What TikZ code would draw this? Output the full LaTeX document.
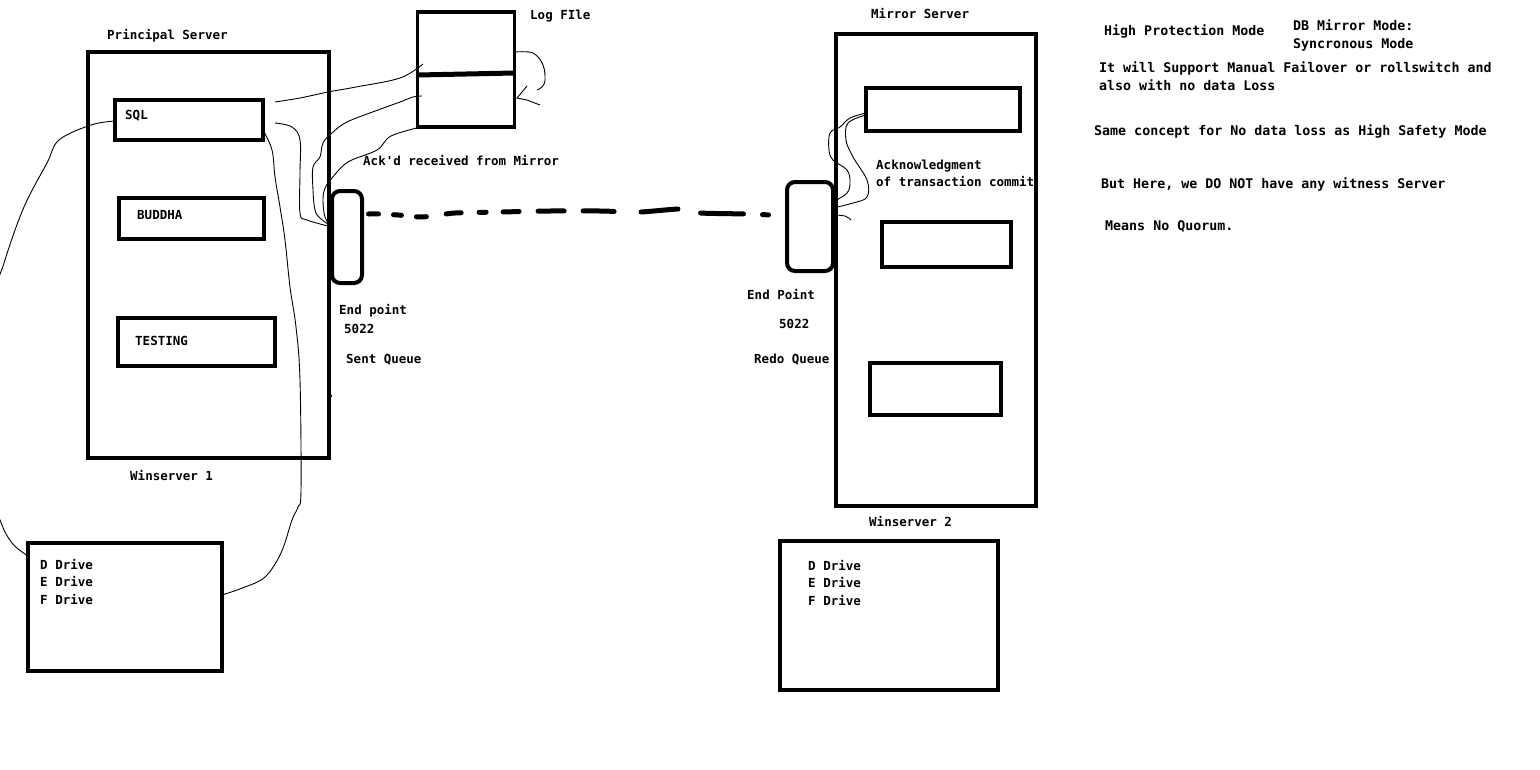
\documentclass[tikz,border=0pt]{standalone}
\usepackage{fontspec}
\setmonofont{DejaVu Sans Mono}
\usetikzlibrary{calc}
\begin{document}
\begin{tikzpicture}[x=1pt,y=-1pt,
  box/.style={draw,line width=3.5pt,inner sep=0pt,outer sep=0pt},
  epbox/.style={box,line width=4pt,rounded corners=8pt},
  lbl/.style={font=\ttfamily\bfseries\fontsize{12.5}{15}\selectfont,anchor=west,inner sep=0pt,text height=9pt,text depth=0pt},
  note/.style={font=\ttfamily\bfseries\fontsize{13.3}{16}\selectfont,anchor=west,inner sep=0pt,text height=9.5pt,text depth=0pt},
  wire/.style={line width=0.9pt},
  link/.style={line width=5pt,line cap=round,
    dash pattern=on 10pt off 15pt on 8pt off 15pt on 10pt off 20pt on 15pt off 18pt on 7pt off 17pt on 16pt off 19pt on 26pt off 19pt on 31pt off 27pt on 37pt off 23pt on 43pt off 19pt on 6pt off 100pt}
]
\useasboundingbox (0,0) rectangle (1540,769);

% principal server
\node[box,minimum width=241,minimum height=406] (ps) at (208.5,255) {};
\node[box,minimum width=148,minimum height=40] (sql) at (189,120) {};
\node[box,minimum width=145,minimum height=41] (buddha) at (191.5,218.5) {};
\node[box,minimum width=157,minimum height=48] (testing) at (196.5,342) {};
\node[epbox,minimum width=30,minimum height=92] (ep1) at (347,237) {};
\node[box,minimum width=97,minimum height=115] (logf) at (466,69.5) {};
\draw[line width=5pt] (logf.west |- 0,75) coordinate (ld1) -- (logf.east |- 0,73) coordinate (ld2);
\node[box,minimum width=194,minimum height=128] (dd1) at (125,607) {};

% mirror server
\node[box,minimum width=200,minimum height=472] (ms) at (936,270) {};
\node[box,minimum width=154,minimum height=43] (m1) at (943,109.5) {};
\node[box,minimum width=129,minimum height=45] (m2) at (946.5,244.5) {};
\node[box,minimum width=131,minimum height=52] (m3) at (935.5,389) {};
\node[epbox,minimum width=46,minimum height=89] (ep2) at (810,226.5) {};
\node[box,minimum width=218,minimum height=149] (dd2) at (889,615.5) {};

% labels
\node[lbl] (tps) at (107,35) {Principal Server};
\node[lbl] (tsql) at (125,115) {SQL};
\node[lbl] (tbud) at (137,215) {BUDDHA};
\node[lbl] (ttest) at (135,341) {TESTING};
\node[lbl] (tw1) at (130,476) {Winserver 1};
\node[lbl] (tlog) at (530,15) {Log FIle};
\node[lbl] (tack) at (363,161) {Ack'd received from Mirror};
\node[lbl] (tep1) at (339,310) {End point};
\node[lbl] (tp1) at (344,329) {5022};
\node[lbl] (tsq) at (346,359) {Sent Queue};
\node[lbl] (tms) at (871,14) {Mirror Server};
\node[lbl] (tak1) at (876,165) {Acknowledgment};
\node[lbl] (tak2) at (876,182) {of transaction commit};
\node[lbl] (tep2) at (747,295) {End Point};
\node[lbl] (tp2) at (779,324) {5022};
\node[lbl] (trq) at (754,359) {Redo Queue};
\node[lbl] (tw2) at (869,522) {Winserver 2};
\node[lbl] (d1a) at (40,565) {D Drive};
\node[lbl] (d1b) at (40,582) {E Drive};
\node[lbl] (d1c) at (40,600) {F Drive};
\node[lbl] (d2a) at (808,566) {D Drive};
\node[lbl] (d2b) at (808,583) {E Drive};
\node[lbl] (d2c) at (808,601) {F Drive};

% notes
\node[note] (n1) at (1104,31) {High Protection Mode};
\node[note] (n2) at (1293,26) {DB Mirror Mode:};
\node[note] (n3) at (1293,44) {Syncronous Mode};
\node[note] (n4) at (1099,68) {It will Support Manual Failover or rollswitch and};
\node[note] (n5) at (1099,86) {also with no data Loss};
\node[note] (n6) at (1094,131) {Same concept for No data loss as High Safety Mode};
\node[note] (n7) at (1101,184) {But Here, we DO NOT have any witness Server};
\node[note] (n8) at (1105,226) {Means No Quorum.};

% endpoint link
\coordinate (la) at (ep1.east |- 0,214);
\coordinate (lb) at (ep2.west |- 0,215);
\draw[link] plot[smooth,tension=0.4] coordinates {($(la)+(6.5,0)$) (380,214) (398,215) (420,217) (432,216) (455,213) (500,212) (550,211) (600,211) (640,212) (680,209) (700,213) (748,214) ($(lb)+(-16.5,0)$)};

% thin wires, principal side
\draw[wire] plot[smooth,tension=0.6] coordinates {(sql.west |- 0,121) (91,125) (59,140) (47,163) (24,207) (4,263) (-15,330) (-15,470) (0,520) (12,543) (dd1.west |- 0,556)};
\coordinate (w2a) at (275,102);
\coordinate (w2b) at (423,64);
\draw[wire] plot[smooth,tension=0.6] coordinates {(w2a) (300,98) (328,92) (356,87) (400,78) (w2b)};
\coordinate (w3a) at (275,123);
\draw[wire] plot[smooth,tension=0.6] coordinates {(w3a) (292,127) (300,140) (300,173) (300,213) (307,220) (ep1.west |- 0,227)};
\coordinate (w4a) at (422,96);
\draw[wire] plot[smooth,tension=0.6] coordinates {(w4a) (413,97) (400,102) (378,110) (347,122) (332,133) (323,143) (320,157) (313,167) (313,190) (315,210) (320,218) (ep1.west |- 0,227)};
\coordinate (w5a) at (421,127);
\draw[wire] plot[smooth,tension=0.6] coordinates {(w5a) (391,136) (377,150) (348,162) (332,178) (325,188) (323,200) (325,217) (ep1.west |- 0,228)};
\draw[wire] plot[smooth,tension=0.6] coordinates {(sql.east |- 0,130) (272,150) (275,177) (280,207) (285,240) (290,287) (296,327) (300,380) (301,490) (298,507) (292,520) (281,553) (265,577) (245,587) (dd1.east |- 0,595)};
\coordinate (w7b) at (517,98);
\draw[wire] plot[smooth,tension=0.6] coordinates {(logf.east |- 0,52) (533,53) (543,65) (545,80) (542,87) (537,90)};
\draw[wire] (527,86) -- (w7b) -- (527,100) -- (540,105);
\draw[line width=2.5pt] (ps.east |- 0,392) -- ++(2,5);

% thin wires, mirror side
\draw[wire] plot[smooth,tension=0.6] coordinates {(m1.west |- 0,113) (850,118) (840,127) (830,133) (829,150) (833,160) (847,170) (850,182) (847,193) (ep2.east |- 0,202)};
\draw[wire] plot[smooth,tension=0.6] coordinates {(m1.west |- 0,115) (848,123) (846,140) (853,157) (867,180) (867,197) (853,203) (ep2.east |- 0,208)};
\coordinate (w10b) at (851,220);
\draw[wire] plot[smooth,tension=0.6] coordinates {(ep2.east |- 0,215) (845,216) (w10b)};
\draw[line width=2.5pt] (ms.west |- 0,398) -- ++(0,5);
\end{tikzpicture}
\end{document}
